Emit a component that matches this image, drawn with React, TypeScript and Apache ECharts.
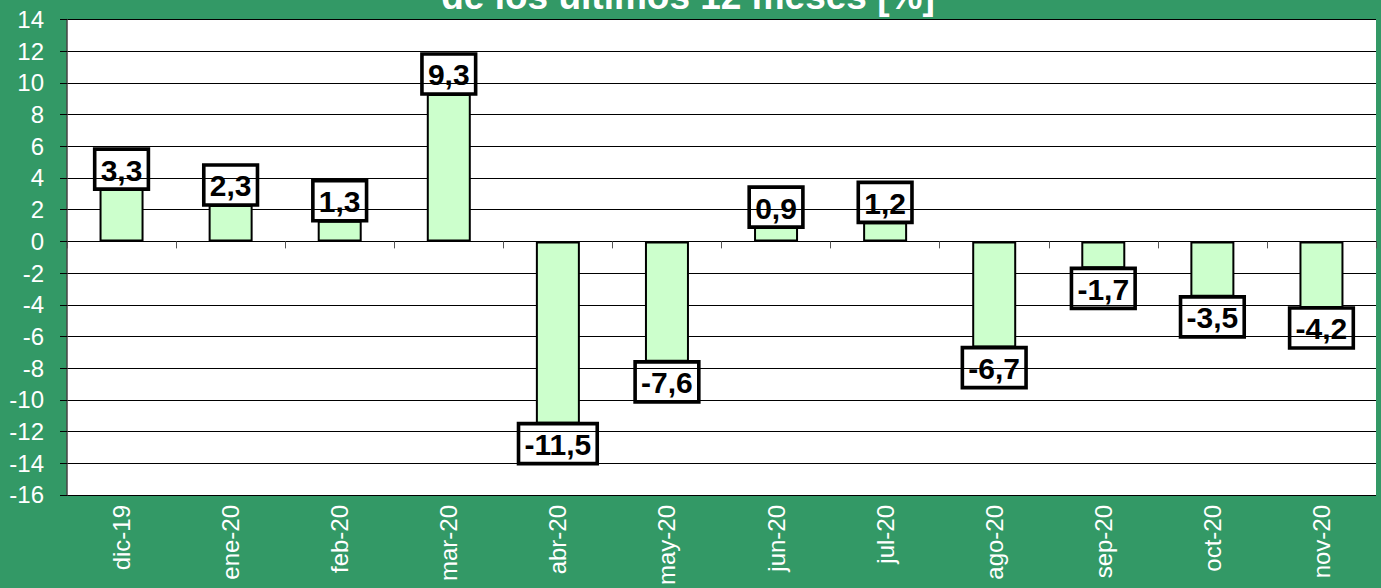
import React, { useEffect, useRef } from "react";
import * as echarts from "echarts";

const categories = ["dic-19", "ene-20", "feb-20", "mar-20", "abr-20", "may-20", "jun-20", "jul-20", "ago-20", "sep-20", "oct-20", "nov-20"];
const values = [3.3, 2.3, 1.3, 9.3, -11.5, -7.6, 0.9, 1.2, -6.7, -1.7, -3.5, -4.2];
const titleText = "de los últimos 12 meses [%]";
const yMin = -16;
const yMax = 14;
const yStep = 2;

const FONT = "'Liberation Sans', Arial, sans-serif";

export default function App() {
  const ref = useRef<HTMLDivElement>(null);
  useEffect(() => {
    if (!ref.current) return;
    const chart = echarts.init(ref.current, null, { renderer: "svg" });
    const data = values.map((v) => ({
      value: v,
      label: { position: v >= 0 ? "top" : "bottom" },
    }));
    chart.setOption({
      animation: false,
      backgroundColor: "#339966",
      graphic: [
        {
          type: "text",
          x: 688,
          y: -4,
          style: {
            text: titleText,
            fill: "#ffffff",
            font: `bold 37px ${FONT}`,
            align: "center",
            verticalAlign: "middle",
          },
        },
      ],
      grid: {
        left: 67,
        right: 5,
        top: 19.5,
        bottom: 92,
        show: true,
        backgroundColor: "#ffffff",
        borderWidth: 0,
      },
      xAxis: [
        {
          type: "category",
          data: categories,
          position: "bottom",
          axisLine: { show: false, onZero: false },
          axisTick: { show: false },
          axisLabel: {
            rotate: 90,
            margin: 10,
            color: "#ffffff",
            fontSize: 24,
            fontFamily: FONT,
            interval: 0,
          },
        },
        {
          type: "category",
          data: categories,
          position: "bottom",
          axisLine: { show: true, onZero: true, lineStyle: { color: "#000", width: 1 } },
          axisTick: { show: true, length: 7, lineStyle: { color: "#555", width: 1 } },
          axisLabel: { show: false },
          splitLine: { show: false },
        },
      ],
      yAxis: {
        type: "value",
        min: yMin,
        max: yMax,
        interval: yStep,
        axisLine: { show: true, lineStyle: { color: "#444", width: 1.5 } },
        axisTick: { show: true, length: 7, lineStyle: { color: "#000" } },
        axisLabel: {
          margin: 23,
          color: "#ffffff",
          fontSize: 24,
          fontFamily: FONT,
        },
        splitLine: { show: true, lineStyle: { color: "#000", width: 1 } },
      },
      series: [
        {
          type: "bar",
          xAxisIndex: 0,
          data,
          barWidth: 44,
          itemStyle: { color: "#CCFFCC", borderColor: "#000", borderWidth: 2 },
          label: {
            show: true,
            distance: 0,
            formatter: (p: any) => String(p.value).replace(".", ","),
            color: "#000",
            fontSize: 30,
            fontWeight: "bold",
            fontFamily: FONT,
            lineHeight: 32,
            padding: [5, 6, 3, 6],
            borderColor: "#000",
            borderWidth: 1.8,
            backgroundColor: "transparent",
          },
        },
      ],
    });
    return () => chart.dispose();
  }, []);
  return <div ref={ref} style={{ width: 1381, height: 588, position: "absolute", left: 0, top: 0 }} />;
}
